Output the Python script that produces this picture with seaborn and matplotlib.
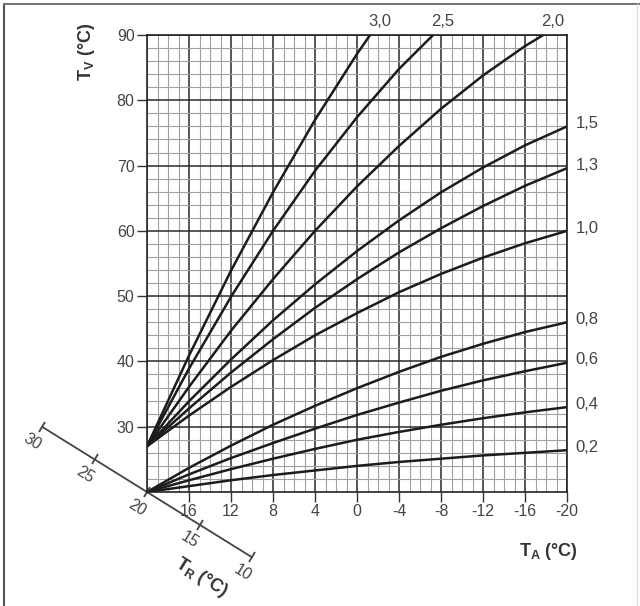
import numpy as np
import pandas as pd
import matplotlib
matplotlib.use("Agg")
import matplotlib.pyplot as plt
import seaborn as sns
from matplotlib.ticker import MultipleLocator
from matplotlib.markers import MarkerStyle
from matplotlib.transforms import Affine2D
from matplotlib.lines import Line2D

# outside temperature T_A (x axis, reversed)
ta = [20, 16, 12, 8, 4, 0, -4, -8, -12, -16, -20]

# flow temperature T_V per heating curve slope
tv_02 = [20, 20.9, 21.8, 22.6, 23.3, 24.0, 24.6, 25.1, 25.6, 26.0, 26.4]
tv_04 = [20, 21.8, 23.5, 25.1, 26.6, 28.0, 29.2, 30.3, 31.3, 32.2, 33.0]
tv_06 = [20, 22.7, 25.2, 27.5, 29.7, 31.8, 33.7, 35.5, 37.1, 38.5, 39.8]
tv_08 = [20, 23.7, 27.1, 30.3, 33.2, 35.9, 38.4, 40.7, 42.7, 44.5, 46.0]
tv_10 = [27, 31.7, 36.1, 40.2, 44.0, 47.4, 50.6, 53.4, 55.9, 58.1, 60.0]
tv_13 = [27, 32.8, 38.3, 43.4, 48.2, 52.6, 56.7, 60.4, 63.8, 66.9, 69.6]
tv_15 = [27, 33.9, 40.3, 46.3, 51.8, 56.9, 61.6, 65.9, 69.7, 73.1, 76.0]
tv_20 = [27, 36.1, 44.7, 52.6, 60.0, 66.8, 73.0, 78.7, 83.8, 88.3, 92.2]
tv_25 = [27, 38.9, 49.9, 60.0, 69.2, 77.4, 84.8, 91.2]
tv_30 = [27, 40.9, 53.9, 65.9, 77.0, 87.1, 96.4]

curves = {
    "0,2": tv_02, "0,4": tv_04, "0,6": tv_06, "0,8": tv_08,
    "1,0": tv_10, "1,3": tv_13, "1,5": tv_15,
    "2,0": tv_20, "2,5": tv_25, "3,0": tv_30,
}
right_labels = ["0,2", "0,4", "0,6", "0,8", "1,0", "1,3", "1,5"]
top_labels = ["2,0", "2,5", "3,0"]

# room temperature T_R scale (diagonal)
tr_ticks = [30, 25, 20, 15, 10]

rows = []
for name, vals in curves.items():
    for x, y in zip(ta, vals):
        rows.append({"curve": name, "ta": x, "tv": y})
df = pd.DataFrame(rows)

sns.set_style("white")
plt.rcParams["font.family"] = ["Liberation Sans", "DejaVu Sans"]
plt.rcParams["mathtext.fontset"] = "custom"
plt.rcParams["mathtext.rm"] = "Liberation Sans"
plt.rcParams["mathtext.bf"] = "Liberation Sans:bold"
plt.rcParams["axes.unicode_minus"] = False

fig = plt.figure(figsize=(6.4, 6.06), dpi=100)
ax = fig.add_axes([147 / 640, 1 - 492 / 606, 420 / 640, 457 / 606])

sns.lineplot(data=df, x="ta", y="tv", units="curve", estimator=None,
             color="#1c1c1c", lw=1.8, legend=False, ax=ax)

ax.set_xlim(20, -20)
ax.set_ylim(20, 90)
ax.set_xticks(list(range(16, -21, -4)))
ax.set_yticks(list(range(30, 91, 10)))
ax.xaxis.set_minor_locator(MultipleLocator(1))
ax.yaxis.set_minor_locator(MultipleLocator(2))
ax.grid(which="major", color="#2a2a2a", lw=1.1)
ax.grid(which="minor", color="#a0a0a0", lw=0.8)
ax.set_axisbelow(True)
ax.tick_params(which="minor", length=0)
ax.tick_params(which="major", bottom=True, left=True, direction="out",
               length=7, width=1.0, color="#333333", labelcolor="#444444",
               labelsize=11.5, pad=2)
for s in ax.spines.values():
    s.set_color("#222222")
    s.set_linewidth(1.2)
ax.set_xlabel("")
ax.set_ylabel("")

# curve labels
for name in right_labels:
    y_end = curves[name][-1]
    ax.annotate(name, (ta[-1], y_end), xytext=(6, 2), textcoords="offset points",
                ha="left", va="center", fontsize=12, color="#444444",
                annotation_clip=False)
for name in top_labels:
    vals = curves[name]
    x_top = np.interp(90, vals, ta[:len(vals)])
    ax.annotate(name, (x_top, 90), xytext=(7, 4), textcoords="offset points",
                ha="center", va="bottom", fontsize=12, color="#444444",
                annotation_clip=False)

# axis titles
ax.text(-0.145, 0.963, r"T$_\mathbf{V}$ (°C)", transform=ax.transAxes,
        rotation=90, ha="center", va="center", fontsize=13,
        fontweight="bold", color="#333333")
ax.text(0.955, -0.131, r"T$_\mathbf{A}$ (°C)", transform=ax.transAxes,
        ha="center", va="center", fontsize=13, fontweight="bold",
        color="#333333")

# diagonal T_R scale
p0 = ax.transData.transform((tr_ticks[0], tr_ticks[0]))
p1 = ax.transData.transform((tr_ticks[-1], tr_ticks[-1]))
ang = np.degrees(np.arctan2(p1[1] - p0[1], p1[0] - p0[0]))
a = np.radians(ang)
perp = np.array([np.sin(a), -np.cos(a)])

ax.plot(tr_ticks, tr_ticks, color="#444444", lw=1.3, clip_on=False)
tick_marker = MarkerStyle("|", transform=Affine2D().rotate_deg(ang))
ax.plot(tr_ticks, tr_ticks, ls="none", marker=tick_marker, ms=9, mew=1.3,
        color="#444444", clip_on=False)
for t in tr_ticks:
    off = perp * 13
    ax.annotate(str(t), (t, t), xytext=(off[0], off[1]), textcoords="offset points",
                rotation=ang, rotation_mode="anchor", ha="center", va="center",
                fontsize=11.5, color="#444444", annotation_clip=False)
off = perp * 32
ax.annotate(r"T$_\mathbf{R}$ (°C)", (12.6, 12.6), xytext=(off[0], off[1]),
            textcoords="offset points", rotation=ang, rotation_mode="anchor",
            ha="center", va="center", fontsize=13, fontweight="bold",
            color="#333333", annotation_clip=False)

# frame around the picture
fig.add_artist(Line2D([4 / 640, 4 / 640], [0, 1 - 4 / 606], transform=fig.transFigure,
                      color="#555555", lw=1.5))
fig.add_artist(Line2D([4 / 640, 1], [1 - 4 / 606, 1 - 4 / 606], transform=fig.transFigure,
                      color="#777777", lw=1.5))
fig.add_artist(Line2D([637 / 640, 637 / 640], [0, 1 - 4 / 606], transform=fig.transFigure,
                      color="#dddddd", lw=1.0))

fig.savefig("out.png", dpi=100)
